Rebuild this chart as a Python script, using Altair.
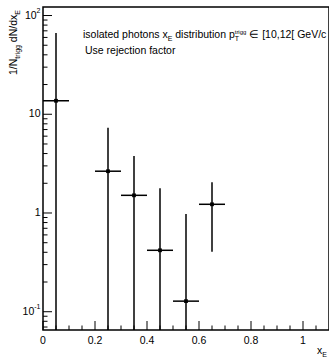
import altair as alt
import pandas as pd

# ---------------- data ----------------
x_center = [0.05, 0.25, 0.35, 0.45, 0.55, 0.65]
x_halfwidth = [0.05, 0.05, 0.05, 0.05, 0.05, 0.05]
y_value = [13.7, 2.65, 1.51, 0.419, 0.128, 1.225]
y_error = [53.0, 4.66, 2.27, 1.36, 0.85, 0.82]

x_major_ticks = [0, 0.2, 0.4, 0.6, 0.8, 1.0]
x_tick_labels = ["0", "0.2", "0.4", "0.6", "0.8", "1"]
x_minor_ticks = [0.05, 0.1, 0.15, 0.25, 0.3, 0.35, 0.45, 0.5, 0.55,
                 0.65, 0.7, 0.75, 0.85, 0.9, 0.95, 1.05]
y_major_ticks = [0.1, 1, 10, 100]
y_minor_ticks = [0.07, 0.08, 0.09,
                 0.2, 0.3, 0.4, 0.5, 0.6, 0.7, 0.8, 0.9,
                 2, 3, 4, 5, 6, 7, 8, 9,
                 20, 30, 40, 50, 60, 70, 80, 90]
y_label_base = ["10", "1", "10", "10"]
y_label_sup = ["-1", "", "", "2"]

X_DOMAIN = [0, 1.1]
Y_DOMAIN = [0.0653, 122]

# ---------------- layout ----------------
PAD_L, PAD_T, PAD_R, PAD_B = 43, 7, 0, 27
W, H = 329 - PAD_L - PAD_R, 357 - PAD_T - PAD_B
FONT = "Liberation Sans"
FS = 10.5
FS_SMALL = 7.0

HELV = {' ': 278, 'a': 556, 'b': 556, 'c': 500, 'd': 556, 'e': 556, 'f': 278, 'g': 556,
        'h': 556, 'i': 222, 'j': 222, 'k': 500, 'l': 222, 'm': 833, 'n': 556, 'o': 556,
        'p': 556, 'q': 556, 'r': 333, 's': 500, 't': 278, 'u': 556, 'v': 500, 'w': 722,
        'x': 500, 'y': 500, 'z': 500, 'E': 667, 'G': 778, 'N': 722, 'T': 611, 'U': 722,
        'V': 667, '/': 278, ',': 278, '.': 278, '[': 278, '-': 333}
SPACE = 278 * FS / 1000.0


def tw(s, size):
    return sum(HELV.get(c, 556) for c in s) * size / 1000.0


def label(txt, xa, ya, size=FS, angle=0, align="left", baseline="alphabetic"):
    return alt.Chart(pd.DataFrame({"k": [0]})).mark_text(
        text=txt, font=FONT, fontSize=size, align=align, baseline=baseline,
        angle=angle, color="black"
    ).encode(x=alt.value(xa - PAD_L), y=alt.value(ya - PAD_T))


df = pd.DataFrame({"x": x_center, "hw": x_halfwidth, "y": y_value, "err": y_error})
df["xlo"] = df["x"] - df["hw"]
df["xhi"] = df["x"] + df["hw"]
df["hi"] = df["y"] + df["err"]
df["lo"] = (df["y"] - df["err"]).clip(lower=Y_DOMAIN[0] * 0.5)

xs = alt.Scale(domain=X_DOMAIN, nice=False, zero=False)
ys = alt.Scale(type="log", domain=Y_DOMAIN, nice=False)

hbar = alt.Chart(df).mark_rule(color="black", strokeWidth=1.5, clip=True).encode(
    x=alt.X("xlo:Q", scale=xs, axis=None), x2="xhi:Q",
    y=alt.Y("y:Q", scale=ys, axis=None))
vbar = alt.Chart(df).mark_rule(color="black", strokeWidth=1.5, clip=True).encode(
    x=alt.X("x:Q", scale=xs, axis=None),
    y=alt.Y("lo:Q", scale=ys, axis=None), y2="hi:Q")
pts = alt.Chart(df).mark_square(size=14, color="black", opacity=1, clip=True).encode(
    x=alt.X("x:Q", scale=xs, axis=None), y=alt.Y("y:Q", scale=ys, axis=None))


def xticks(vals, length):
    return alt.Chart(pd.DataFrame({"t": vals})).mark_rule(color="black", strokeWidth=1).encode(
        x=alt.X("t:Q", scale=xs, axis=None), y=alt.value(H), y2=alt.value(H - length))


def yticks(vals, length):
    return alt.Chart(pd.DataFrame({"t": vals})).mark_rule(color="black", strokeWidth=1).encode(
        y=alt.Y("t:Q", scale=ys, axis=None), x=alt.value(0), x2=alt.value(length))


layers = [hbar, vbar, pts,
          xticks(x_major_ticks, 9), xticks(x_minor_ticks, 4.5),
          yticks(y_major_ticks, 9), yticks(y_minor_ticks, 4.5)]

# x-axis labels (placed through the x scale)
xlab = pd.DataFrame({"t": x_major_ticks, "lab": x_tick_labels})
layers.append(alt.Chart(xlab).mark_text(
    font=FONT, fontSize=FS, align="center", baseline="top", color="black"
).encode(x=alt.X("t:Q", scale=xs, axis=None), y=alt.value(H + 6), text="lab:N"))

# y-axis labels with superscripts (placed through the y scale)
LAB_RIGHT = 40.5
for val, base, sup in zip(y_major_ticks, y_label_base, y_label_sup):
    sw = tw(sup, FS_SMALL)
    d = pd.DataFrame({"t": [val]})
    layers.append(alt.Chart(d).mark_text(
        text=base, font=FONT, fontSize=FS, align="right", baseline="middle", color="black"
    ).encode(x=alt.value(LAB_RIGHT - sw - PAD_L), y=alt.Y("t:Q", scale=ys, axis=None)))
    if sup:
        layers.append(alt.Chart(d).mark_text(
            text=sup, font=FONT, fontSize=FS_SMALL, align="left", baseline="middle",
            color="black", dy=-4.5
        ).encode(x=alt.value(LAB_RIGHT - sw - PAD_L), y=alt.Y("t:Q", scale=ys, axis=None)))

# legend text (TLatex-like)
x0, yb = 83, 38
p1 = "isolated photons x"
layers.append(label(p1, x0, yb))
xe = x0 + tw(p1, FS)
layers.append(label("E", xe, yb + 3, FS_SMALL))
p2 = "distribution p"
xd = xe + tw("E", FS_SMALL) + SPACE
layers.append(label(p2, xd, yb))
xt = xd + tw(p2, FS)
layers.append(label("T", xt, yb + 3, FS_SMALL))
layers.append(label("trigg", xt, yb - 4.5, FS_SMALL * 0.85))
xr = xt + max(tw("T", FS_SMALL), tw("trigg", FS_SMALL * 0.85)) + SPACE
layers.append(label("\u2208 [10,12[ GeV/c", xr, yb))
layers.append(label("Use rejection factor", 85, yb + 16))

# y title (rotated)
ybase_x, ysub_x = 16.5, 19.5
y0 = 75
t1 = "1/N"
layers.append(label(t1, ybase_x, y0, FS, angle=270))
ya = y0 - tw(t1, FS)
layers.append(label("trigg", ysub_x, ya, FS_SMALL, angle=270))
ya -= tw("trigg", FS_SMALL) + SPACE
t2 = "dN/dx"
layers.append(label(t2, ybase_x, ya, FS, angle=270))
ya -= tw(t2, FS)
layers.append(label("E", ysub_x, ya, FS_SMALL, angle=270))

# x title
layers.append(label("x", 317, 354))
layers.append(label("E", 317 + tw("x", FS), 356.5, FS_SMALL))

chart = alt.layer(*layers).properties(
    width=W, height=H, autosize="none",
    padding={"left": PAD_L, "top": PAD_T, "right": PAD_R, "bottom": PAD_B},
    background="white"
).configure_view(stroke="black", strokeWidth=1.5)

chart.save("out.html", embed_options={"renderer": "svg", "actions": False})
